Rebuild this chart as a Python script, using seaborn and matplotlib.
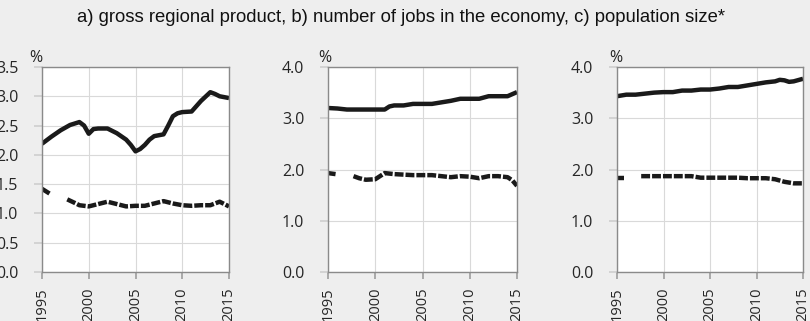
import numpy as np
import pandas as pd
import matplotlib
matplotlib.use("Agg")
import matplotlib.pyplot as plt
import seaborn as sns
from matplotlib import font_manager as fm

# ---------------- data ----------------
title = "a) gross regional product, b) number of jobs in the economy, c) population size*"

gdp_years = [1995, 1996, 1997, 1998, 1999, 1999.5, 2000, 2000.5, 2001, 2002, 2003, 2004,
             2004.5, 2005, 2005.5, 2006, 2006.5, 2007, 2008, 2008.5, 2009, 2009.5, 2010,
             2011, 2011.5, 2012, 2013, 2013.5, 2014, 2015]
gdp_solid = [2.19, 2.31, 2.42, 2.51, 2.56, 2.50, 2.36, 2.44, 2.45, 2.45, 2.37, 2.26,
             2.17, 2.06, 2.10, 2.17, 2.26, 2.32, 2.35, 2.50, 2.66, 2.71, 2.73,
             2.74, 2.83, 2.92, 3.07, 3.04, 3.00, 2.97]
gdp_dash_years = [1995, 1995.8, None, 1997.7, 1998.5, 1999, 2000, 2001, 2002, 2003, 2004,
                  2005, 2006, 2007, 2008, 2009, 2010, 2011, 2012, 2013, 2014, 2015]
gdp_dash = [1.42, 1.34, None, 1.24, 1.18, 1.14, 1.12, 1.16, 1.20, 1.16, 1.12,
            1.13, 1.13, 1.17, 1.21, 1.17, 1.14, 1.13, 1.14, 1.14, 1.20, 1.12]

jobs_years = [1995, 1996, 1997, 1998, 1999, 2000, 2001, 2001.5, 2002, 2003, 2004, 2005,
              2006, 2007, 2008, 2009, 2010, 2011, 2012, 2013, 2014, 2015]
jobs_solid = [3.20, 3.19, 3.17, 3.17, 3.17, 3.17, 3.17, 3.23, 3.25, 3.25, 3.28, 3.28,
              3.28, 3.31, 3.34, 3.38, 3.38, 3.38, 3.43, 3.43, 3.43, 3.51]
jobs_dash_years = [1995, 1995.8, None, 1997.7, 1998.3, 1999, 2000, 2000.5, 2001, 2002, 2003,
                   2004, 2005, 2006, 2007, 2008, 2009, 2010, 2011, 2012, 2013, 2014,
                   2014.5, 2015]
jobs_dash = [1.93, 1.91, None, 1.87, 1.83, 1.80, 1.81, 1.87, 1.93, 1.91, 1.90,
             1.89, 1.89, 1.89, 1.87, 1.85, 1.87, 1.86, 1.83, 1.87, 1.87, 1.85,
             1.79, 1.68]

pop_years = [1995, 1996, 1997, 1998, 1999, 2000, 2001, 2002, 2003, 2004, 2005, 2006,
             2007, 2008, 2009, 2010, 2011, 2012, 2012.5, 2013, 2013.5, 2014, 2015]
pop_solid = [3.43, 3.46, 3.46, 3.48, 3.50, 3.51, 3.51, 3.54, 3.54, 3.56, 3.56, 3.58,
             3.61, 3.61, 3.64, 3.67, 3.70, 3.72, 3.75, 3.74, 3.71, 3.72, 3.77]
pop_dash_years = [1995, 1995.8, None, 1997.6, 1998, 1999, 2000, 2001, 2002, 2003, 2004,
                  2005, 2006, 2007, 2008, 2009, 2010, 2011, 2012, 2013, 2014, 2015]
pop_dash = [1.84, 1.84, None, 1.87, 1.87, 1.87, 1.87, 1.87, 1.87, 1.87, 1.84,
            1.84, 1.84, 1.84, 1.84, 1.83, 1.83, 1.83, 1.81, 1.76, 1.73, 1.73]

year_ticks = [1995, 2000, 2005, 2010, 2015]
ylims = [3.5, 4.0, 4.0]
yticks_list = [[0.0, 0.5, 1.0, 1.5, 2.0, 2.5, 3.0, 3.5],
               [0.0, 1.0, 2.0, 3.0, 4.0],
               [0.0, 1.0, 2.0, 3.0, 4.0]]

# ---------------- styling ----------------
sns.set_theme(style="white")
bg = "#eeeeee"
tick_font = ["Open Sans", "DejaVu Sans"]
names = {f.name for f in fm.fontManager.ttflist}
title_font = "Liberation Sans Narrow" if "Liberation Sans Narrow" in names else "Liberation Sans"
title_size = 14 if title_font == "Liberation Sans Narrow" else 13.3
plt.rcParams["font.family"] = tick_font


def segs(xs, ys):
    rows, seg = [], 0
    for x, y in zip(xs, ys):
        if x is None:
            seg += 1
            continue
        rows.append({"x": x, "y": y, "seg": seg})
    return pd.DataFrame(rows)


fig = plt.figure(figsize=(8.1, 3.21), dpi=100, facecolor=bg)
W, H = 810, 321
boxes = [(42, 67, 229, 272), (328, 67, 517, 272), (617, 67, 803, 272)]
pct_offsets = [0.0, 0.02, 0.03]
panels = [(gdp_years, gdp_solid, gdp_dash_years, gdp_dash),
          (jobs_years, jobs_solid, jobs_dash_years, jobs_dash),
          (pop_years, pop_solid, pop_dash_years, pop_dash)]

for i, ((l, t, r, b), (sx, sy, dx, dy)) in enumerate(zip(boxes, panels)):
    ax = fig.add_axes([l / W, 1 - b / H, (r - l) / W, (b - t) / H])
    ax.set_facecolor("white")
    solid_df = pd.DataFrame({"x": sx, "y": sy})
    sns.lineplot(data=solid_df, x="x", y="y", ax=ax, color="#1a1a1a", lw=3.2,
                 estimator=None, sort=False, solid_capstyle="butt")
    dash_df = segs(dx, dy)
    sns.lineplot(data=dash_df, x="x", y="y", units="seg", estimator=None, ax=ax,
                 color="#1a1a1a", lw=3.2, sort=False, dashes=False)
    for ln in ax.lines[1:]:
        ln.set_dashes((2.0, 0.45))
        ln.set_dash_capstyle("butt")
    ax.set_xlim(1995, 2015)
    ax.set_ylim(0, ylims[i])
    ax.set_xticks(year_ticks)
    ax.set_xticklabels([str(y) for y in year_ticks], rotation=90, fontsize=10.5,
                       color="#262626")
    ax.set_yticks(yticks_list[i])
    ax.set_yticklabels([f"{v:.1f}" for v in yticks_list[i]], fontsize=11.5, color="#262626")
    ax.grid(True, color="#d9d9d9", lw=0.8)
    ax.tick_params(axis="x", length=5, color="#a0a0a0", pad=6, bottom=True)
    ax.tick_params(axis="y", length=6, color="#d0d0d0", pad=11, left=True)
    for sp in ax.spines.values():
        sp.set_color("#8a8a8a")
        sp.set_linewidth(1.0)
    ax.set_xlabel("")
    ax.set_ylabel("")
    ax.text(pct_offsets[i], 1.005, "%", transform=ax.transAxes, fontsize=11.5, ha="right",
            va="bottom", color="#262626")

fig.text(0.495, 1 - 17 / H, title, ha="center", va="center", fontsize=title_size,
         family=[title_font, "DejaVu Sans"], color="#111111")

fig.savefig("out.png", dpi=100, facecolor=bg)
